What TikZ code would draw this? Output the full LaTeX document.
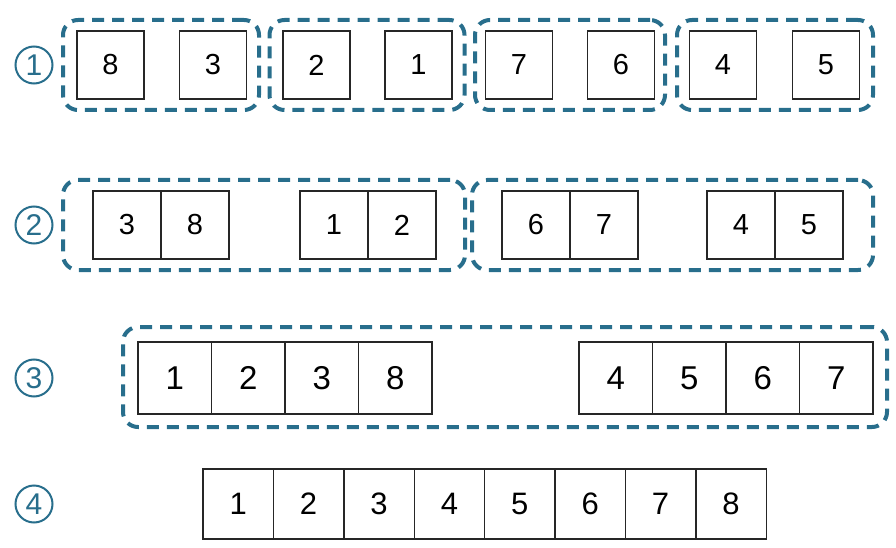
\documentclass[tikz,border=0pt]{standalone}
\usepackage{fontspec}
\setmainfont{Liberation Sans}
\definecolor{teal1}{RGB}{40,110,140}
\begin{document}
\begin{tikzpicture}[x=1pt,y=-1pt,
  cell/.style={draw=black!85,line width=1.4pt,inner sep=0pt,minimum width=#1},
  c1/.style={cell=67pt,minimum height=68pt,font=\fontsize{29}{34}\selectfont},
  c2/.style={cell=68pt,minimum height=68pt,font=\fontsize{29}{34}\selectfont},
  c3/.style={cell=73.5pt,minimum height=72pt,font=\fontsize{33}{38}\selectfont},
  c4/.style={cell=70.4pt,minimum height=70pt,font=\fontsize{31}{36}\selectfont},
  grp/.style={draw=teal1,line width=4pt,dash pattern=on 12pt off 8pt,rounded corners=15pt,inner sep=0pt},
  stepnum/.style={circle,draw=teal1,line width=2pt,text=teal1,minimum size=37pt,inner sep=0pt,font=\fontsize{30}{32}\selectfont}
]
\useasboundingbox (0,0) rectangle (896,548);
% step labels
\node[stepnum] (s1) at (34,65) {1};
\node[stepnum] (s2) at (34,225) {2};
\node[stepnum] (s3) at (34,378) {3};
\node[stepnum] (s4) at (34,504) {4};
% row 1
\node[grp,minimum width=196pt,minimum height=90pt] (g1a) at (161,65) {};
\node[grp,minimum width=195pt,minimum height=90pt] (g1b) at (367,65) {};
\node[grp,minimum width=190pt,minimum height=90pt] (g1c) at (570,65) {};
\node[grp,minimum width=196pt,minimum height=90pt] (g1d) at (775,65) {};
\node[c1] (r1a) at (110.5,65) {8};
\node[c1] (r1b) at (213,65) {3};
\node[c1] (r1c) at (316.5,65) {2};
\node[c1] (r1d) at (418.5,65) {1};
\node[c1] (r1e) at (519,65) {7};
\node[c1] (r1f) at (621,65) {6};
\node[c1] (r1g) at (723,65) {4};
\node[c1] (r1h) at (826,65) {5};
% row 2
\node[grp,minimum width=402pt,minimum height=90pt] (g2a) at (264,225) {};
\node[grp,minimum width=401pt,minimum height=90pt] (g2b) at (672.5,225) {};
\node[c2] (r2a) at (127,225) {3};
\node[c2] (r2b) at (195,225) {8};
\node[c2] (r2c) at (334,225) {1};
\node[c2] (r2d) at (402,225) {2};
\node[c2] (r2e) at (536,225) {6};
\node[c2] (r2f) at (604,225) {7};
\node[c2] (r2g) at (741,225) {4};
\node[c2] (r2h) at (809,225) {5};
% row 3
\node[grp,minimum width=764pt,minimum height=100pt] (g3) at (505,377) {};
\node[c3] (r3a) at (174.75,378) {1};
\node[c3] (r3b) at (248.25,378) {2};
\node[c3] (r3c) at (321.75,378) {3};
\node[c3] (r3d) at (395.25,378) {8};
\node[c3] (r3e) at (615.75,378) {4};
\node[c3] (r3f) at (689.25,378) {5};
\node[c3] (r3g) at (762.75,378) {6};
\node[c3] (r3h) at (836.25,378) {7};
% row 4
\node[c4] (r4a) at (238.2,504) {1};
\node[c4] (r4b) at (308.6,504) {2};
\node[c4] (r4c) at (379.0,504) {3};
\node[c4] (r4d) at (449.4,504) {4};
\node[c4] (r4e) at (519.8,504) {5};
\node[c4] (r4f) at (590.2,504) {6};
\node[c4] (r4g) at (660.6,504) {7};
\node[c4] (r4h) at (731.0,504) {8};
\end{tikzpicture}
\end{document}
